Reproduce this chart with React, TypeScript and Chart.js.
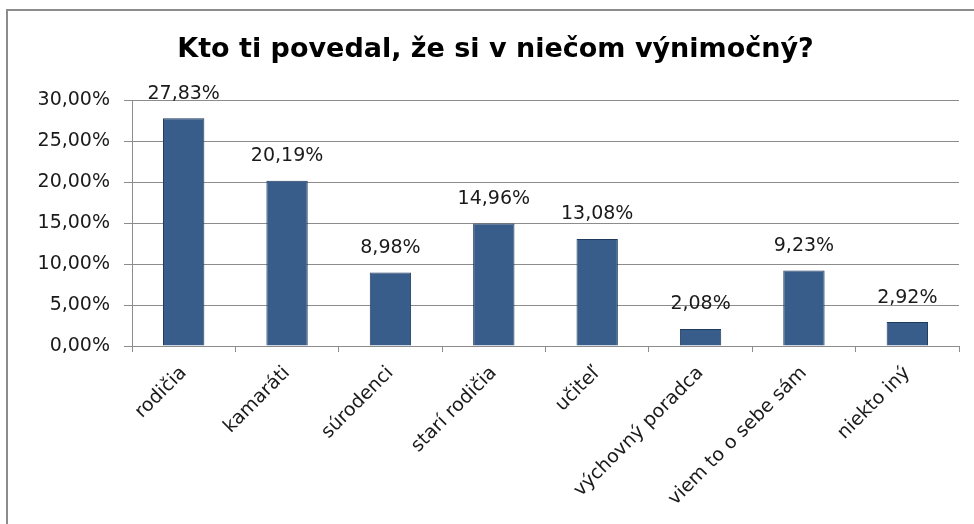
import React, { useEffect, useRef } from "react";
import { Chart, registerables } from "chart.js";

Chart.register(...registerables);

const TITLE = "Kto ti povedal, že si v niečom výnimočný?";
const CATEGORIES = [
  "rodičia",
  "kamaráti",
  "súrodenci",
  "starí rodičia",
  "učiteľ",
  "výchovný poradca",
  "viem to o sebe sám",
  "niekto iný",
];
const VALUES = [27.83, 20.19, 8.98, 14.96, 13.08, 2.08, 9.23, 2.92];
const Y_MIN = 0;
const Y_MAX = 30;
const Y_STEP = 5;

const fmt = (v: number) => v.toFixed(2).replace(".", ",") + "%";

const FONT = "'DejaVu Sans', sans-serif";
const TEXT = "#1a1a1a";

const background = {
  id: "background",
  beforeDraw(chart: any) {
    const ctx = chart.ctx;
    ctx.save();
    ctx.fillStyle = "#ffffff";
    ctx.fillRect(0, 0, chart.width, chart.height);
    ctx.restore();
  },
};

const dataLabels = {
  id: "dataLabels",
  afterDatasetsDraw(chart: any) {
    const ctx = chart.ctx;
    const meta = chart.getDatasetMeta(0);
    ctx.save();
    ctx.font = `19px ${FONT}`;
    ctx.fillStyle = TEXT;
    ctx.textAlign = "center";
    ctx.textBaseline = "bottom";
    meta.data.forEach((bar: any, i: number) => {
      ctx.fillText(fmt(VALUES[i]), bar.x, bar.y - 15);
    });
    ctx.restore();
  },
};

export default function App() {
  const ref = useRef<HTMLCanvasElement | null>(null);
  useEffect(() => {
    if (!ref.current) return;
    const chart = new Chart(ref.current, {
      type: "bar",
      data: {
        labels: CATEGORIES,
        datasets: [
          {
            data: VALUES,
            backgroundColor: "#385d8a",
            borderColor: "#1f3a5f",
            borderWidth: 1,
            barPercentage: 0.4,
            categoryPercentage: 1,
          },
        ],
      },
      options: {
        responsive: false,
        animation: false,
        devicePixelRatio: 1,
        layout: { padding: { left: 32, right: 15, top: 0, bottom: 0 } },
        plugins: {
          legend: { display: false },
          tooltip: { enabled: false },
          title: {
            display: true,
            text: TITLE,
            color: "#000",
            font: { family: FONT, size: 27, weight: "bold", lineHeight: 1.2 },
            padding: { top: 34, bottom: 34 },
          },
        },
        scales: {
          x: {
            grid: {
              drawOnChartArea: false,
              drawTicks: true,
              tickLength: 6,
              color: "#8c8c8c",
              offset: true,
            },
            border: { color: "#8c8c8c", width: 1 },
            ticks: {
              color: TEXT,
              font: { family: FONT, size: 19 },
              maxRotation: 45,
              minRotation: 45,
              padding: 10,
              autoSkip: false,
            },
            afterFit(s: any) {
              s.height = 178;
            },
          },
          y: {
            min: Y_MIN,
            max: Y_MAX,
            ticks: {
              stepSize: Y_STEP,
              color: TEXT,
              font: { family: FONT, size: 19 },
              padding: 14,
              callback: (v: any) => fmt(Number(v)),
            },
            grid: { color: "#8c8c8c", tickLength: 8, drawTicks: true },
            border: { color: "#8c8c8c", width: 1 },
            afterFit(s: any) {
              s.width = 100;
            },
          },
        },
      },
      plugins: [background, dataLabels],
    });
    return () => chart.destroy();
  }, []);
  return (
    <div
      style={{
        position: "fixed",
        left: 0,
        top: 0,
        width: 974,
        height: 524,
        overflow: "hidden",
        background: "#fff",
      }}
    >
      <canvas
        ref={ref}
        width={974}
        height={524}
        style={{ position: "absolute", left: 0, top: 0, width: 974, height: 524 }}
      />
      <div
        style={{
          position: "absolute",
          left: 6,
          top: 9,
          width: 980,
          height: 2,
          background: "#8c8c8c",
        }}
      />
      <div
        style={{
          position: "absolute",
          left: 6,
          top: 9,
          width: 2,
          height: 600,
          background: "#8c8c8c",
        }}
      />
    </div>
  );
}
